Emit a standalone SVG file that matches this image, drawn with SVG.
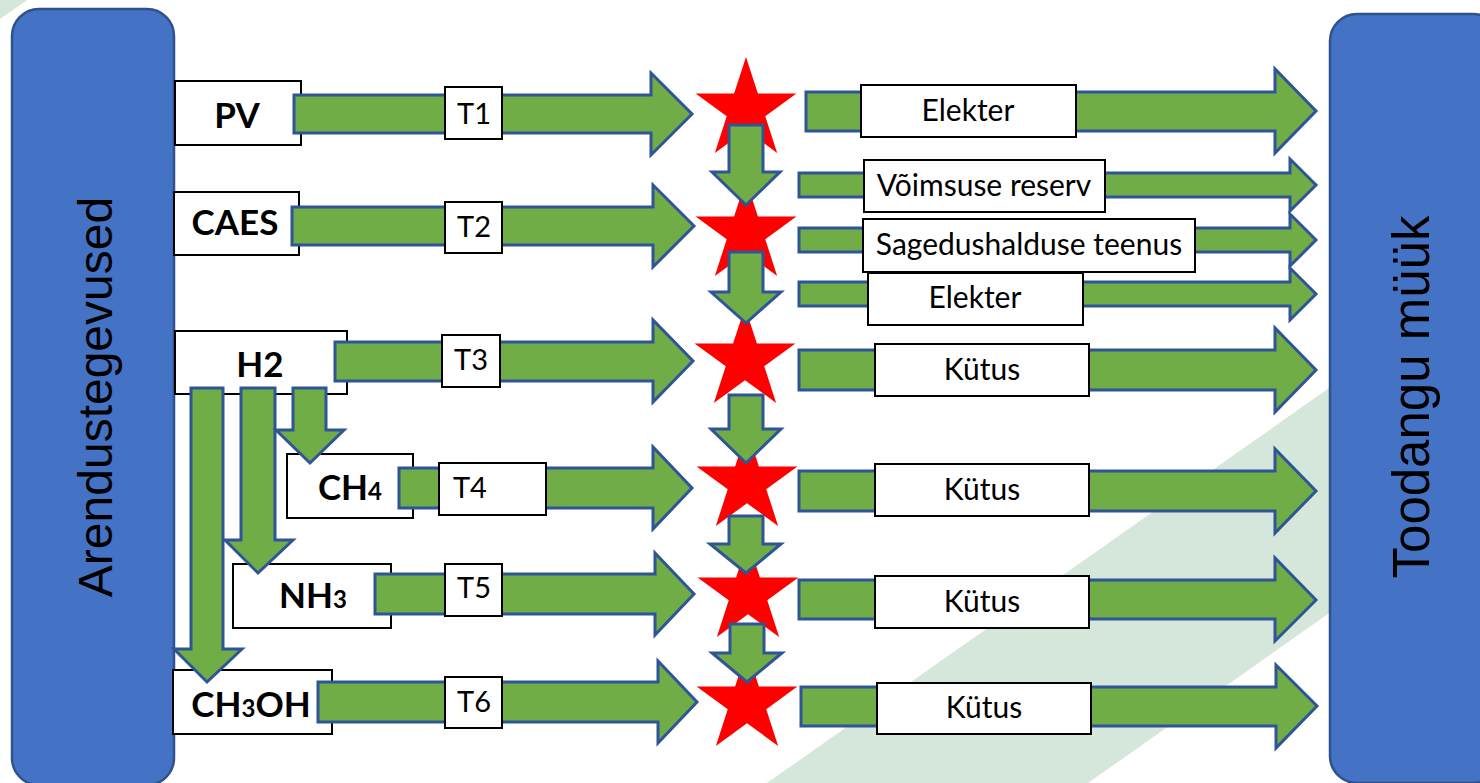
<svg xmlns="http://www.w3.org/2000/svg" xmlns:xlink="http://www.w3.org/1999/xlink" width="1480" height="783" viewBox="0 0 1480 783">
  <style>
    .main{fill:#4472C4;stroke:#2F528F;stroke-width:2.5}
    .box{fill:#FFFFFF;stroke:#000000;stroke-width:2}
    .arrow{fill:#70AD47;stroke:#2F5597;stroke-width:3;stroke-linejoin:miter}
    .star{fill:#FF0000}
    .stripe{fill:#D5E6DA}
    .big{font-family:"Liberation Sans",Arial,sans-serif;font-size:48px;text-anchor:middle;fill:#000}
    .bold{font-family:Lato,"Liberation Sans",sans-serif;font-weight:700;font-size:35px;text-anchor:middle;fill:#000}
    .sub{font-size:24px}
    .lbl{font-family:Lato,"Liberation Sans",sans-serif;font-size:30px;text-anchor:middle;fill:#000}
    .tl{font-family:Lato,"Liberation Sans",sans-serif;font-size:29px;text-anchor:middle;fill:#000}
  </style>
  <defs>
    <path id="star" d="M0,-53 L11.9,-16.38 L50.41,-16.38 L19.26,6.26 L31.15,42.88 L0,20.25 L-31.15,42.88 L-19.26,6.26 L-50.41,-16.38 L-11.9,-16.38 Z"/>
  </defs>
  <rect width="1480" height="783" fill="#FFFFFF"/>
  <g id="background">
    <polygon class="stripe" points="0,0 27,0 0,19"/>
    <polygon class="stripe" points="767,783 1480,282 1480,507 1088,783"/>
  </g>

  <g id="arendustegevused">
    <rect class="main" x="12" y="9" width="162" height="776" rx="27"/>
    <text class="big" x="112" y="397" transform="rotate(-90 112 397)">Arendustegevused</text>
  </g>
  <g id="toodangu-myyk">
    <rect class="main" x="1330" y="14" width="170" height="769" rx="27"/>
    <text class="big" x="1429" y="397" transform="rotate(-90 1429 397)" style="font-size:51px">Toodangu müük</text>
  </g>

  <g id="pv"><rect class="box" x="175" y="81" width="126" height="64"/><text class="bold" x="237" y="128">PV</text></g>
  <g id="caes"><rect class="box" x="174" y="192" width="125" height="63"/><text class="bold" x="235" y="235">CAES</text></g>
  <g id="h2"><rect class="box" x="175" y="331" width="172" height="63"/><text class="bold" x="260" y="377">H2</text></g>
  <g id="ch4"><rect class="box" x="287" y="454" width="126" height="64"/><text class="bold" x="350" y="500">CH<tspan class="sub">4</tspan></text></g>
  <g id="nh3"><rect class="box" x="233" y="564" width="158" height="64"/><text class="bold" x="313" y="608">NH<tspan class="sub">3</tspan></text></g>
  <g id="ch3oh"><rect class="box" x="173" y="670" width="159" height="64"/><text class="bold" x="251" y="717">CH<tspan class="sub">3</tspan>OH</text></g>

  <g id="stars">
    <use id="star1" class="star" xlink:href="#star" href="#star" x="746" y="110"/>
    <use id="star2" class="star" xlink:href="#star" href="#star" x="746" y="233"/>
    <use id="star3" class="star" xlink:href="#star" href="#star" x="745" y="360"/>
    <use id="star4" class="star" xlink:href="#star" href="#star" x="747" y="483"/>
    <use id="star5" class="star" xlink:href="#star" href="#star" x="748" y="594"/>
    <use id="star6" class="star" xlink:href="#star" href="#star" x="747" y="703"/>
  </g>

  <g id="connectors">
    <path class="arrow" d="M294,95 H651 V73 L692,114 L651,155 V133 H294 Z"/>
    <path class="arrow" d="M292,207 H653 V185 L694,226 L653,267 V245 H292 Z"/>
    <path class="arrow" d="M335,342 H653 V320 L693,361 L653,402 V381 H335 Z"/>
    <path class="arrow" d="M399,468 H653 V447 L692,488 L653,529 V508 H399 Z"/>
    <path class="arrow" d="M375,574 H655 V553 L694,594 L655,635 V614 H375 Z"/>
    <path class="arrow" d="M318,682 H658 V661 L697,702 L658,743 V722 H318 Z"/>

    <path class="arrow" d="M191,388 V649 H174 L207,682 L242,649 H223 V388 Z"/>
    <path class="arrow" d="M241,388 V540 H225 L258,573 L293,540 H275 V388 Z"/>
    <path class="arrow" d="M293,388 V430 H276 L310,463 L344,430 H326 V388 Z"/>

    <path class="arrow" d="M729,125 V172 H712 L746,205 L780,172 H763 V125 Z"/>
    <path class="arrow" d="M729,252 V292 H711 L746,323 L781,292 H763 V252 Z"/>
    <path class="arrow" d="M729,395 V429 H711 L746,463 L781,429 H763 V395 Z"/>
    <path class="arrow" d="M729,516 V544 H710 L746,573 L781,544 H763 V516 Z"/>
    <path class="arrow" d="M730,624 V653 H712 L747,682 L782,653 H764 V624 Z"/>

    <path class="arrow" d="M806,92 H1275 V69 L1316,111 L1275,153 V131 H806 Z"/>
    <path class="arrow" d="M799,173 H1290 V159 L1316,185 L1290,211 V197 H799 Z"/>
    <path class="arrow" d="M799,228 H1290 V214 L1316,240 L1290,266 V252 H799 Z"/>
    <path class="arrow" d="M799,282 H1290 V268 L1316,294 L1290,320 V306 H799 Z"/>
    <path class="arrow" d="M799,350 H1275 V328 L1316,370 L1275,412 V390 H799 Z"/>
    <path class="arrow" d="M799,471 H1275 V449 L1316,491 L1275,533 V511 H799 Z"/>
    <path class="arrow" d="M799,580 H1275 V558 L1316,600 L1275,641 V619 H799 Z"/>
    <path class="arrow" d="M801,687 H1276 V665 L1317,706 L1276,748 V726 H801 Z"/>
  </g>

  <g id="connector-labels">
    <g id="t1"><rect class="box" x="445" y="87" width="57" height="52"/><text class="tl" x="474" y="124">T1</text></g>
    <g id="t2"><rect class="box" x="445" y="202" width="57" height="51"/><text class="tl" x="474" y="237">T2</text></g>
    <g id="t3"><rect class="box" x="442" y="335" width="58" height="52"/><text class="tl" x="471" y="370">T3</text></g>
    <g id="t4"><rect class="box" x="439" y="463" width="107" height="52"/><text class="tl" x="453" y="498" style="text-anchor:start">T4</text></g>
    <g id="t5"><rect class="box" x="445" y="564" width="57" height="52"/><text class="tl" x="474" y="598">T5</text></g>
    <g id="t6"><rect class="box" x="445" y="677" width="57" height="51"/><text class="tl" x="474" y="712">T6</text></g>

    <g id="l-elekter1"><rect class="box" x="861" y="85" width="215" height="52"/><text class="lbl" x="968" y="121">Elekter</text></g>
    <g id="l-voimsuse"><rect class="box" x="864" y="160" width="241" height="52"/><text class="lbl" x="984" y="196">Võimsuse reserv</text></g>
    <g id="l-sagedus"><rect class="box" x="863" y="219" width="332" height="53"/><text class="lbl" x="1029" y="255">Sagedushalduse teenus</text></g>
    <g id="l-elekter2"><rect class="box" x="868" y="273" width="215" height="52"/><text class="lbl" x="975" y="308">Elekter</text></g>
    <g id="l-kytus1"><rect class="box" x="875" y="344" width="214" height="52"/><text class="lbl" x="982" y="380">Kütus</text></g>
    <g id="l-kytus2"><rect class="box" x="875" y="464" width="214" height="52"/><text class="lbl" x="982" y="500">Kütus</text></g>
    <g id="l-kytus3"><rect class="box" x="875" y="576" width="214" height="52"/><text class="lbl" x="982" y="612">Kütus</text></g>
    <g id="l-kytus4"><rect class="box" x="877" y="683" width="214" height="51"/><text class="lbl" x="984" y="718">Kütus</text></g>
  </g>
</svg>
